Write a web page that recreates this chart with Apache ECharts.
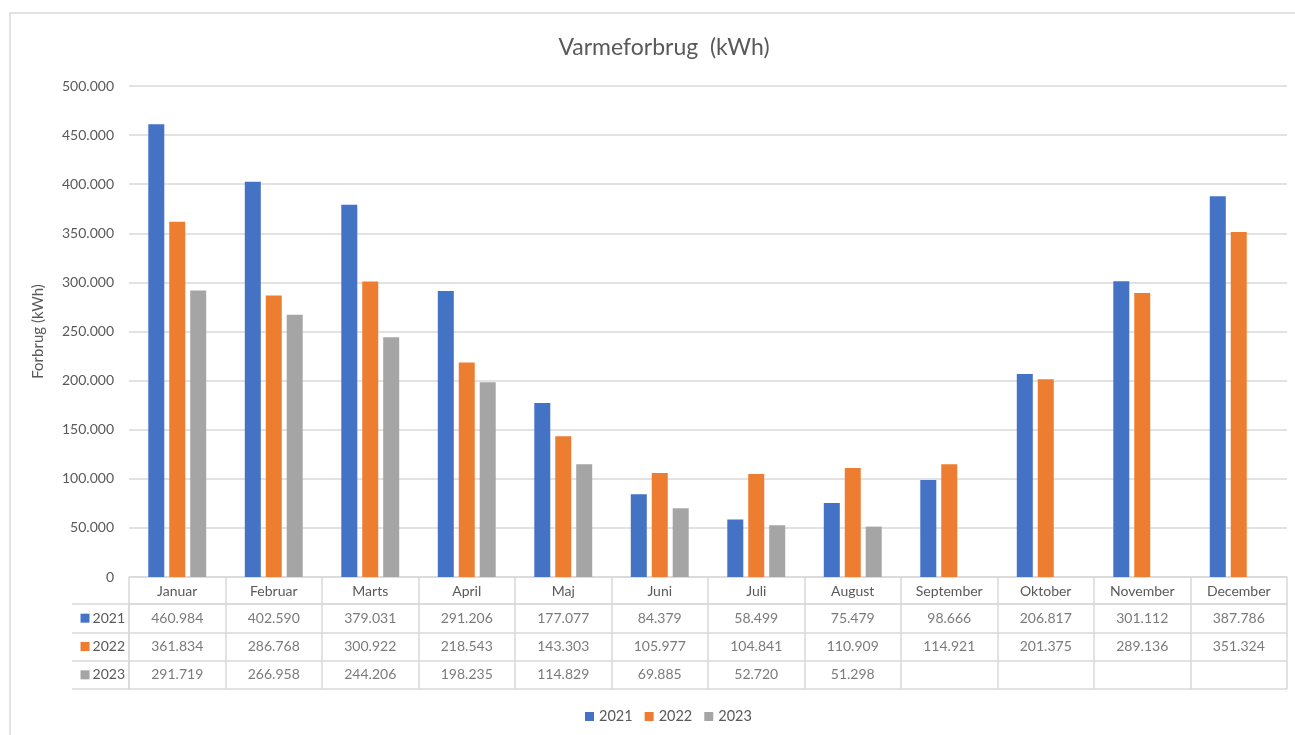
<!DOCTYPE html>
<html><head><meta charset="utf-8">
<script src="https://cdn.jsdelivr.net/npm/echarts@6/dist/echarts.min.js"></script>
<style>html,body{margin:0;padding:0;background:#fff}#c{width:1295px;height:735px}</style>
</head><body><div id="c"></div>
<script>
const months = ['Januar','Februar','Marts','April','Maj','Juni','Juli','August','September','Oktober','November','December'];
const years = ['2021','2022','2023'];
const v2021 = [460984,402590,379031,291206,177077,84379,58499,75479,98666,206817,301112,387786];
const v2022 = [361834,286768,300922,218543,143303,105977,104841,110909,114921,201375,289136,351324];
const v2023 = [291719,266958,244206,198235,114829,69885,52720,51298,null,null,null,null];
const colors = ['#4472C4','#ED7D31','#A5A5A5'];
const seriesValues = [v2021, v2022, v2023];

const FONT = 'Lato, "Open Sans", sans-serif';
const TXT = '#595959';
const LINE = '#D9D9D9';
function fmt(v){ return String(Math.round(v)).replace(/\B(?=(\d{3})+(?!\d))/g,'.'); }

const tableData = [];
seriesValues.forEach((arr, yi) => arr.forEach((v, mi) => { if (v != null) tableData.push([mi, yi, v]); }));

const chart = echarts.init(document.getElementById('c'));
chart.setOption({
  animation: false,
  color: colors,
  textStyle: { fontFamily: FONT, color: TXT },
  title: { text: 'Varmeforbrug  (kWh)', left: 659, top: 31, textAlign: 'center',
    textStyle: { fontFamily: FONT, fontSize: 23, fontWeight: 'normal', color: TXT } },
  graphic: [{ type: 'rect', shape: { x: 10, y: 13, width: 1300, height: 800 },
    style: { fill: 'none', stroke: LINE, lineWidth: 1.5 }, silent: true, z: -1 }],
  legend: { bottom: 6, left: 580, data: years, itemWidth: 9, itemHeight: 9, itemGap: 12,
    icon: 'rect', textStyle: { fontFamily: FONT, fontSize: 14.5, color: TXT } },
  grid: [
    { left: 129, right: 8, top: 86, bottom: 158 },
    { left: 129, right: 8, top: 604, height: 85 }
  ],
  xAxis: [
    { type: 'category', gridIndex: 0, data: months,
      axisLine: { lineStyle: { color: LINE, width: 1.5 } },
      axisTick: { show: true, length: 27, interval: 0, lineStyle: { color: LINE, width: 1.5 } },
      axisLabel: { interval: 0, margin: 7, fontFamily: FONT, fontSize: 14, color: TXT } },
    { type: 'category', gridIndex: 1, data: months, position: 'top',
      axisLine: { show: true, lineStyle: { color: LINE, width: 1.5 } },
      axisTick: { show: false }, axisLabel: { show: false },
      splitLine: { show: true, interval: 0, lineStyle: { color: LINE, width: 1.5 } } }
  ],
  yAxis: [
    { type: 'value', gridIndex: 0, min: 0, max: 500000, interval: 50000,
      name: 'Forbrug (kWh)', nameLocation: 'middle', nameGap: 83,
      nameTextStyle: { fontFamily: FONT, fontSize: 15, color: TXT },
      axisLine: { show: false }, axisTick: { show: false },
      axisLabel: { formatter: fmt, margin: 15, fontFamily: FONT, fontSize: 14, color: TXT },
      splitLine: { lineStyle: { color: LINE, width: 1.5 } } },
    { type: 'category', gridIndex: 1, data: years, inverse: true,
      axisLine: { show: true, lineStyle: { color: LINE, width: 1.5 } },
      axisTick: { show: true, length: 57, interval: 0, lineStyle: { color: LINE, width: 1.5 } },
      splitLine: { show: true, interval: 0, lineStyle: { color: LINE, width: 1.5 } },
      axisLabel: { margin: 4, align: 'right',
        formatter: (v, i) => '{s' + i + '|}{t|' + v + '}',
        rich: {
          s0: { width: 9, height: 9, backgroundColor: colors[0] },
          s1: { width: 9, height: 9, backgroundColor: colors[1] },
          s2: { width: 9, height: 9, backgroundColor: colors[2] },
          t: { fontFamily: FONT, fontSize: 14, color: TXT, padding: [0, 0, 0, 3] }
        } } },
    { type: 'category', gridIndex: 1, data: years, inverse: true, offset: 57,
      axisLine: { show: true, lineStyle: { color: LINE, width: 1.5 } },
      axisTick: { show: false }, axisLabel: { show: false } }
  ],
  series: [
    ...years.map((y, i) => ({
      name: y, type: 'bar', xAxisIndex: 0, yAxisIndex: 0, data: seriesValues[i],
      barWidth: 16, barGap: '31%', itemStyle: { color: colors[i] }
    })),
    { type: 'scatter', xAxisIndex: 1, yAxisIndex: 1, data: tableData, symbolSize: 0,
      silent: true, legendHoverLink: false,
      label: { show: true, position: 'inside', formatter: p => fmt(p.value[2]),
        fontFamily: FONT, fontSize: 14, color: TXT } }
  ]
});
</script></body></html>
